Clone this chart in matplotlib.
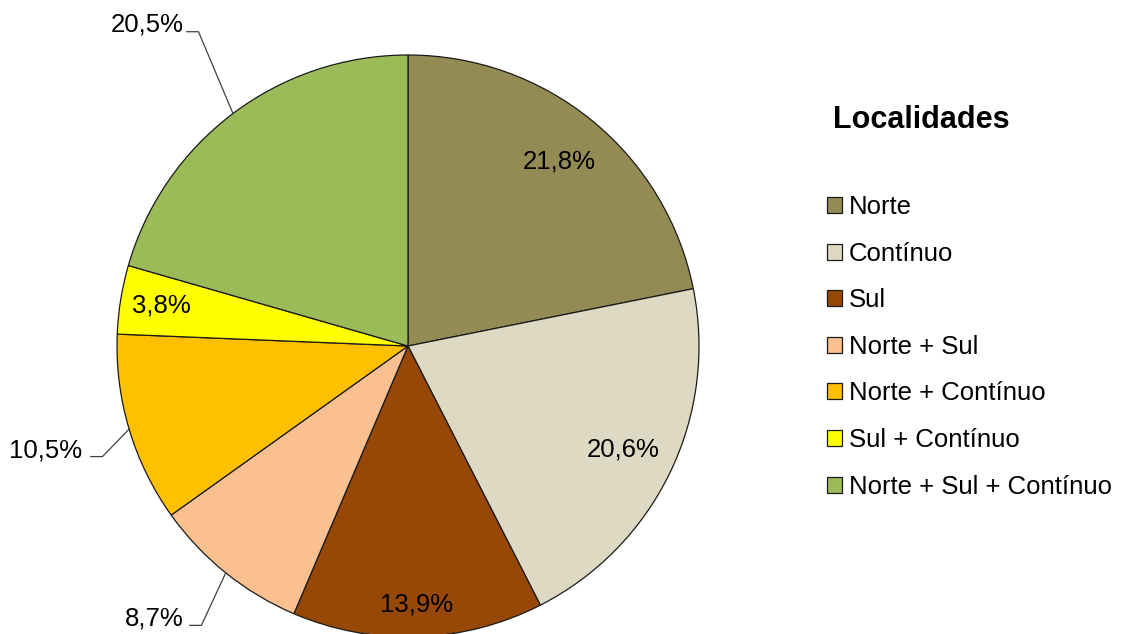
import numpy as np
import matplotlib.pyplot as plt

plt.rcParams['font.family'] = ['Liberation Sans', 'DejaVu Sans']

categorias = ['Norte', 'Contínuo', 'Sul', 'Norte + Sul', 'Norte + Contínuo',
              'Sul + Contínuo', 'Norte + Sul + Contínuo']
percentagens = [21.8, 20.6, 13.9, 8.7, 10.5, 3.8, 20.5]
cores = ['#948A54', '#DDD9C3', '#974806', '#FAC090', '#FFC000', '#FFFF00', '#9BBB59']

# rótulos dentro da fatia (raio relativo) ou fora com linha de ligação
dentro = {0: 0.82, 1: 0.82, 2: 0.89, 5: 0.86}
fora = {  # (ponto de cotovelo, posição do texto) em unidades do raio
    3: ((-0.71, -0.96), (-0.77, -0.935)),
    4: ((-1.05, -0.38), (-1.12, -0.36)),
    6: ((-0.72, 1.08), (-0.77, 1.105)),
}

W, H = 1135, 634
fig = plt.figure(figsize=(W / 100, H / 100), dpi=100)
cx, cy, r = 408, 346, 291
ax = fig.add_axes([(cx - r) / W, (H - cy - r) / H, 2 * r / W, 2 * r / H])

wedges, _ = ax.pie(percentagens, colors=cores, startangle=90, counterclock=False,
                   radius=1, wedgeprops=dict(edgecolor='#1a1a1a', linewidth=0.9))
ax.set_xlim(-1, 1)
ax.set_ylim(-1, 1)
ax.set_aspect('equal')
ax.axis('off')

for i, (w, p) in enumerate(zip(wedges, percentagens)):
    ang = np.deg2rad((w.theta1 + w.theta2) / 2)
    txt = f'{p:.1f}%'.replace('.', ',')
    x, y = np.cos(ang), np.sin(ang)
    if i in dentro:
        k = dentro[i]
        ax.text(k * x, k * y, txt, ha='center', va='center', fontsize=18.5)
    else:
        (ex, ey), (tx, ty) = fora[i]
        ax.plot([x, ex, ex - 0.04], [y, ey, ey], color='#404040', lw=0.9,
                clip_on=False)
        ax.text(tx, ty, txt, ha='right', va='center', fontsize=18.5, clip_on=False)

fig.text(833 / W, 1 - 120 / H, 'Localidades', fontsize=22, fontweight='bold',
         ha='left', va='center')
fig.legend(wedges, categorias, loc='upper left',
           bbox_to_anchor=(827 / W, 1 - 195 / H), frameon=False, fontsize=18.5,
           handlelength=0.58, handleheight=0.58, handletextpad=0.27,
           labelspacing=0.88, borderaxespad=0, borderpad=0)

fig.savefig('out.png', dpi=100, facecolor='white')
